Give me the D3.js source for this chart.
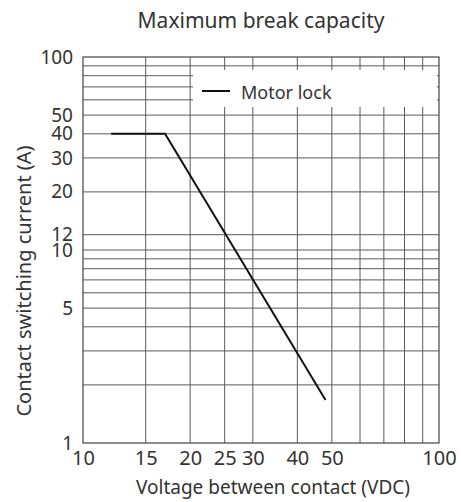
<!DOCTYPE html>
<html>
<head>
<meta charset="utf-8">
<script src="https://cdn.jsdelivr.net/npm/d3@7"></script>
<style>
  body { margin: 0; background: #fff; }
  text { font-family: 'Noto Sans', sans-serif; fill: #333; }
</style>
</head>
<body>
<div id="chart"></div>
<script>
// values
const voltage = [12, 17, 48];
const current = [40, 40, 1.67];
const seriesName = 'Motor lock';

const xTickLabels = [10, 15, 20, 25, 30, 40, 50, 100];
const yTickLabels = [1, 5, 10, 12, 20, 30, 40, 50, 100];
const xGrid = [15, 20, 25, 30, 40, 50, 60, 70, 80, 90];
const yGrid = [2, 3, 4, 5, 6, 7, 8, 9, 10, 12, 20, 30, 40, 50, 60, 70, 80, 90];

const svgWidth = 461;
const svgHeight = 502;

const margin = { top: 57, right: 22, bottom: 59, left: 83 };
const innerWidth = svgWidth - margin.left - margin.right;
const innerHeight = svgHeight - margin.top - margin.bottom;

const svg = d3.select('#chart')
  .append('svg')
    .attr('width', svgWidth)
    .attr('height', svgHeight);

const g = svg.append('g')
    .attr('transform', `translate(${margin.left}, ${margin.top})`);

const xScale = d3.scaleLog()
    .domain([10, 100])
    .range([0, innerWidth]);

const yScale = d3.scaleLog()
    .domain([1, 100])
    .range([innerHeight, 0]);

// grid
g.selectAll('.vgrid').data(xGrid)
  .enter().append('line')
    .attr('x1', d => xScale(d)).attr('x2', d => xScale(d))
    .attr('y1', 0).attr('y2', innerHeight)
    .attr('stroke', '#5a5a5a').attr('stroke-width', 1);

g.selectAll('.hgrid').data(yGrid)
  .enter().append('line')
    .attr('y1', d => yScale(d)).attr('y2', d => yScale(d))
    .attr('x1', 0).attr('x2', innerWidth)
    .attr('stroke', '#5a5a5a').attr('stroke-width', 1);

// legend backdrop hides the grid behind it
g.append('rect')
    .attr('x', 110).attr('y', 13)
    .attr('width', innerWidth - 112).attr('height', 37)
    .attr('fill', '#fff');

// frame
g.append('rect')
    .attr('x', 0).attr('y', 0)
    .attr('width', innerWidth).attr('height', innerHeight)
    .attr('fill', 'none').attr('stroke', '#444').attr('stroke-width', 1.2);

// axes (labels only)
const xAxisG = g.append('g')
    .attr('transform', `translate(0,${innerHeight})`)
    .call(d3.axisBottom(xScale).tickValues(xTickLabels).tickSize(0).tickPadding(8).tickFormat(d3.format('d')));
xAxisG.select('.domain').remove();
xAxisG.selectAll('text').attr('font-size', 20).attr('fill', '#333');

const yAxisG = g.append('g')
    .call(d3.axisLeft(yScale).tickValues(yTickLabels).tickSize(0).tickPadding(10).tickFormat(d3.format('d')));
yAxisG.select('.domain').remove();
yAxisG.selectAll('text').attr('font-size', 19).attr('fill', '#333');

// series
const points = voltage.map((v, i) => ({ v, a: current[i] }));
const line = d3.line()
    .x(d => xScale(d.v))
    .y(d => yScale(d.a));

g.append('path')
    .datum(points)
    .attr('d', line)
    .attr('fill', 'none')
    .attr('stroke', '#111')
    .attr('stroke-width', 2);

// legend
g.append('line')
    .attr('x1', 119).attr('x2', 147)
    .attr('y1', 34).attr('y2', 34)
    .attr('stroke', '#111').attr('stroke-width', 2);
g.append('text')
    .attr('x', 158).attr('y', 42)
    .attr('font-size', 18)
    .text(seriesName);

// titles
svg.append('text')
    .attr('x', margin.left + innerWidth / 2)
    .attr('y', 28)
    .attr('text-anchor', 'middle')
    .attr('font-size', 21)
    .text('Maximum break capacity');

svg.append('text')
    .attr('x', 273)
    .attr('y', 494)
    .attr('text-anchor', 'middle')
    .attr('font-size', 19)
    .text('Voltage between contact (VDC)');

svg.append('text')
    .attr('transform', `translate(31, 281) rotate(-90)`)
    .attr('text-anchor', 'middle')
    .attr('font-size', 20)
    .text('Contact switching current (A)');
</script>
</body>
</html>
